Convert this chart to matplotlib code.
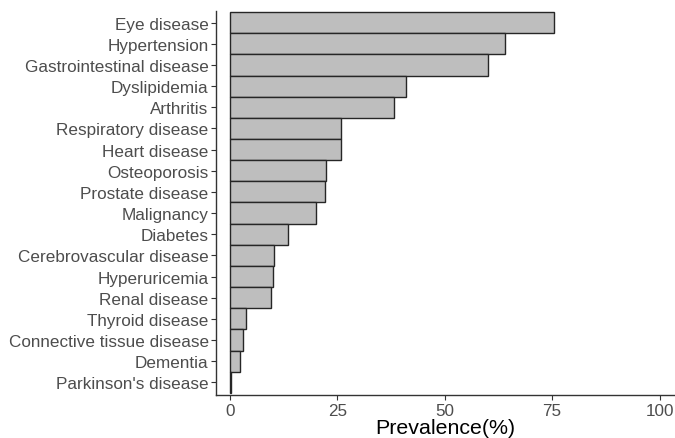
import matplotlib
matplotlib.use("Agg")
import matplotlib.pyplot as plt

diseases = ["Eye disease", "Hypertension", "Gastrointestinal disease", "Dyslipidemia",
            "Arthritis", "Respiratory disease", "Heart disease", "Osteoporosis",
            "Prostate disease", "Malignancy", "Diabetes", "Cerebrovascular disease",
            "Hyperuricemia", "Renal disease", "Thyroid disease",
            "Connective tissue disease", "Dementia", "Parkinson's disease"]
prevalence = [75.5, 64.0, 60.0, 41.0, 38.2, 26.0, 25.9, 22.3, 22.2, 20.2,
              13.6, 10.4, 10.1, 9.6, 3.7, 3.0, 2.4, 0.25]

plt.rcParams['font.family'] = ['Liberation Sans', 'DejaVu Sans']

fig = plt.figure(figsize=(6.75, 4.39), dpi=100)
ax = fig.add_axes([0.3205, 0.098, 0.6795, 0.875])

ypos = list(range(len(diseases)))[::-1]
ax.barh(ypos, prevalence, height=1.0, color="#BEBEBE", edgecolor="#262626", linewidth=1.0)

ax.set_xlim(-3.1, 103.6)
ax.set_ylim(-0.6, 17.56)
ax.set_yticks(ypos)
ax.set_yticklabels(diseases, fontsize=12.3, color="#4D4D4D")
ax.set_xticks([0, 25, 50, 75, 100])
ax.set_xticklabels(["0", "25", "50", "75", "100"], fontsize=12.3, color="#4D4D4D")
ax.tick_params(axis="both", length=3.5, width=0.8, color="#333333", pad=2)
ax.set_xlabel("Prevalence(%)", fontsize=15.4, color="black", labelpad=0)

for s in ["top", "right"]:
    ax.spines[s].set_visible(False)
for s in ["left", "bottom"]:
    ax.spines[s].set_color("#333333")
    ax.spines[s].set_linewidth(1.0)

fig.savefig("out.png", dpi=100)
